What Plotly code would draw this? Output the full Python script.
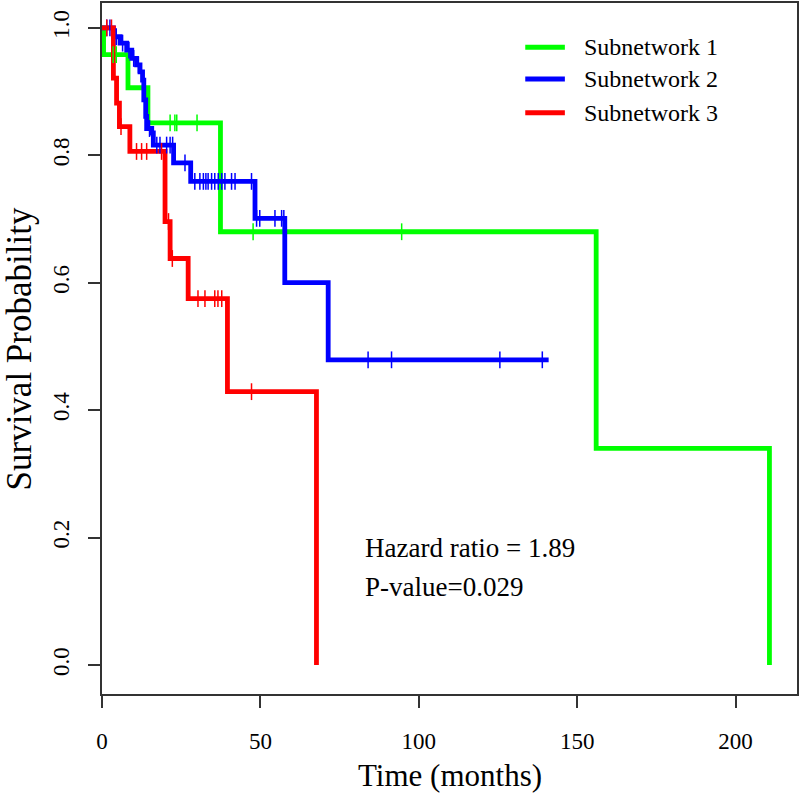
import plotly.graph_objects as go
import numpy as np

# ---- data ----
groups = ["Subnetwork 1", "Subnetwork 2", "Subnetwork 3"]
colors = ["#00FF00", "#0000FF", "#FF0000"]

g1_time = [0, 0.5, 8.2, 14.5, 37.4, 156.0, 210.7]
g1_surv = [1.0, 0.958, 0.906, 0.851, 0.680, 0.340, 0.0]
g1_cens = [3.5, 4.5, 21.5, 23.0, 23.6, 30.0, 47.7, 94.6]

g2_time = [0, 3.6, 5.7, 7.8, 9.4, 10.9, 12.0, 12.8, 13.2, 13.8, 14.1, 15.7, 16.2,
           22.6, 28.0, 48.3, 57.7, 71.4, 141.0]
g2_surv = [1.0, 0.986, 0.976, 0.965, 0.952, 0.942, 0.931, 0.918, 0.887, 0.861, 0.842,
           0.835, 0.816, 0.788, 0.759, 0.701, 0.600, 0.479, 0.479]
g2_cens = [1.5, 2.5, 4.5, 6.5, 8.5, 10.0, 11.5, 13.5, 15.0, 17.3, 18.3, 20.4, 21.5,
           22.3, 26.2, 29.3, 30.9, 32.0, 32.8, 33.5, 34.6, 35.6, 36.7, 37.8, 38.8,
           40.9, 42.0, 47.2, 48.8, 49.8, 54.6, 56.7, 57.4, 84.0, 91.4, 125.6, 139.0]

g3_time = [0, 3.6, 4.6, 5.5, 8.8, 19.9, 21.5, 27.2, 39.6, 67.7]
g3_surv = [1.0, 0.921, 0.882, 0.845, 0.806, 0.696, 0.638, 0.575, 0.429, 0.0]
g3_cens = [1.5, 3.0, 6.0, 10.9, 12.5, 14.1, 18.8, 21.0, 22.2, 30.3, 32.5, 35.6,
           36.6, 37.8, 47.2]

x_ticks = [0, 50, 100, 150, 200]
y_ticks = [0.0, 0.2, 0.4, 0.6, 0.8, 1.0]
y_tick_labels = ["0.0", "0.2", "0.4", "0.6", "0.8", "1.0"]

hazard_text = "Hazard ratio = 1.89"
pvalue_text = "P-value=0.029"
x_title = "Time (months)"
y_title = "Survival Probability"

series = [(g1_time, g1_surv, g1_cens), (g2_time, g2_surv, g2_cens), (g3_time, g3_surv, g3_cens)]

FONT = "Liberation Serif, Times New Roman, serif"

def step_value(times, survs, t):
    idx = np.searchsorted(np.array(times), t, side="right") - 1
    return survs[max(idx, 0)]

fig = go.Figure()
for name, col, (tt, ss, cc) in zip(groups, colors, series):
    fig.add_trace(go.Scatter(x=tt, y=ss, mode="lines", name=name,
                             line=dict(color=col, width=4.8, shape="hv"),
                             showlegend=False))
for name, col, (tt, ss, cc) in zip(groups, colors, series):
    fig.add_trace(go.Scatter(x=cc, y=[step_value(tt, ss, c) for c in cc], mode="markers",
                             marker=dict(symbol="line-ns", size=12,
                                         line=dict(color=col, width=1.5)),
                             showlegend=False, hoverinfo="skip"))

# manual legend (paper coordinates)
leg_x0, leg_x1, leg_tx = 0.609, 0.666, 0.691
leg_y = [0.936, 0.890, 0.841]
for name, col, yy in zip(groups, colors, leg_y):
    fig.add_shape(type="line", xref="paper", yref="paper", x0=leg_x0, x1=leg_x1, y0=yy, y1=yy,
                  line=dict(color=col, width=5))
    fig.add_annotation(x=leg_tx, y=yy, xref="paper", yref="paper", text=name, showarrow=False,
                       xanchor="left", yanchor="middle", font=dict(family=FONT, size=24, color="black"))

fig.add_annotation(x=82.5, y=0.184, xref="x", yref="y", text=hazard_text, showarrow=False,
                   xanchor="left", yanchor="middle", font=dict(family=FONT, size=27, color="black"))
fig.add_annotation(x=82.5, y=0.122, xref="x", yref="y", text=pvalue_text, showarrow=False,
                   xanchor="left", yanchor="middle", font=dict(family=FONT, size=27, color="black"))

# axis titles
fig.add_annotation(x=0.5, y=-0.118, xref="paper", yref="paper", text=x_title, showarrow=False,
                   xanchor="center", yanchor="middle", font=dict(family=FONT, size=31, color="black"))
fig.add_annotation(x=-0.118, y=0.5, xref="paper", yref="paper", text=y_title, showarrow=False,
                   textangle=-90, xanchor="center", yanchor="middle",
                   font=dict(family=FONT, size=35, color="black"))

axis_common = dict(showline=True, mirror=True, linecolor="#333333", linewidth=1.5,
                   ticks="outside", ticklen=12, tickwidth=1.5, tickcolor="#333333",
                   showgrid=False, zeroline=False, automargin=False,
                   tickfont=dict(family=FONT, size=23, color="black"))

fig.update_xaxes(range=[0, 219.4], tickvals=x_ticks, ticklabelstandoff=14, **axis_common)
fig.update_yaxes(range=[-0.0455, 1.039], tickvals=y_ticks, ticktext=y_tick_labels,
                 tickangle=-90, ticklabelstandoff=10, **axis_common)

fig.update_layout(
    width=800, height=801,
    margin=dict(l=102, r=3, t=3, b=107),
    plot_bgcolor="white", paper_bgcolor="white",
    font=dict(family=FONT, color="black"),
    showlegend=False,
)

fig.write_html("out.html", config={"displayModeBar": False},
               post_script="document.body.style.margin='0';")
